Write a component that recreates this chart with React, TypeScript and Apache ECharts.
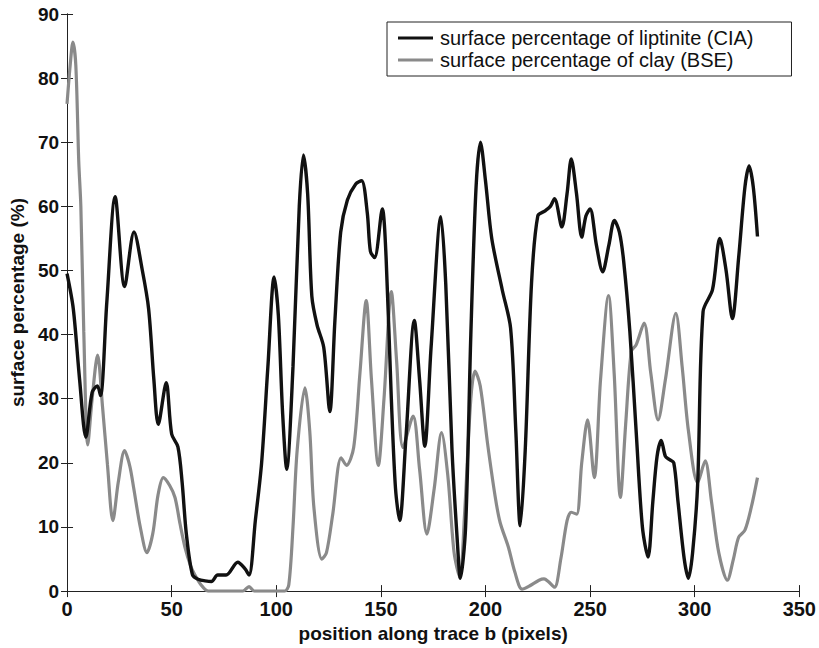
import React, { useEffect, useRef } from "react";
import * as echarts from "echarts";

const xTicks = { min: 0, max: 350, interval: 50 };
const yTicks = { min: 0, max: 90, interval: 10 };

const seriesNames = [
  "surface percentage of liptinite (CIA)",
  "surface percentage of clay (BSE)",
];

const liptiniteX = [
  0, 3, 6, 9, 12, 14.5, 16, 19, 23, 27.5, 32, 36, 39, 41.5, 43.6, 47.4, 50, 53, 55, 57, 60, 63, 66, 69, 72, 76,
  81.6, 85, 87, 90, 93, 96, 99, 101, 103, 105, 108, 111, 113, 115, 117, 119.5, 122.7, 125.6, 128, 130.8, 134,
  138, 140.8, 143.5, 145, 147, 150.7, 152.5, 155, 157, 159, 162, 166, 168.5, 171, 174, 178.7, 181, 184, 186.5,
  188, 190.5, 193, 195.5, 197.6, 200, 203, 208, 212, 214.5, 216.6, 219, 222, 225, 228.5, 231, 233, 236.5, 239,
  241, 243.5, 246, 248, 250, 253, 256, 259, 261.6, 264, 266, 269, 272, 275, 277.7, 280, 282, 284, 286, 288, 290,
  292, 295, 297, 299, 301.4, 304, 308.5, 312, 315, 318, 321, 324, 326, 328, 330,
];
const liptiniteY = [
  49.5, 44, 33, 24, 31, 32, 30.5, 45, 61.5, 47.5, 56, 50, 44, 33, 26, 32.5, 24.5, 22.5, 17, 9, 2.5, 1.8, 1.6, 1.5,
  2.5, 2.5, 4.5, 3.5, 2.5, 11, 20, 35, 49, 43, 28, 19, 35, 60, 68, 62, 46, 41.5, 38, 28, 42, 56, 61, 63.5, 64, 59,
  53, 52, 59.6, 52, 30, 16, 11, 24, 42.2, 33, 22.6, 38, 58.4, 48, 22, 8, 2, 10, 40, 63, 70, 64, 55, 47, 41, 25,
  10.2, 22, 48, 58.5, 59.3, 60, 61.2, 56.8, 62, 67.4, 62, 55.2, 58.5, 59.6, 54, 49.8, 54, 57.8, 56, 51.6, 40.5,
  25, 10, 5.3, 14, 21, 23.5, 21, 20.5, 20, 14, 5, 2, 6, 16.6, 43.6, 47, 55, 50, 42.5, 52, 63, 66.3, 63, 55.3,
];

const clayX = [
  0, 1.5, 2.8, 4.2, 5.6, 6.6, 8, 9.9, 12, 14.6, 17, 19.3, 21.9, 24.5, 27.5, 30, 31.9, 35, 38.2, 41, 43.5, 46, 49,
  51.6, 54, 56.4, 59, 61, 64, 67.4, 75, 84, 87, 89.5, 95, 104, 106, 108, 110, 113.7, 116, 118, 121.8, 124, 127,
  131, 133.6, 137, 140, 143, 145.5, 148.8, 151.5, 155, 157.5, 160.6, 165.4, 168.5, 172, 175.5, 179, 182, 185,
  187.7, 190, 193, 195, 197.5, 201, 204.7, 207, 211, 214, 217.5, 221, 225.6, 228, 230, 233, 236, 239, 241, 243.6,
  246, 248.8, 252, 255, 258.8, 261.5, 264.5, 267, 269.7, 272, 275.8, 279, 282.5, 286, 291, 294, 297, 301.4, 305,
  308, 311.5, 315.6, 318.5, 321, 324, 327, 330,
];
const clayY = [
  76, 82, 85.6, 82, 67, 60, 40.5, 22.8, 30, 36.8, 28.6, 19.8, 11, 17, 21.9, 19.5, 16, 10, 6, 9, 15, 17.7, 16.5,
  14.6, 10.5, 6.8, 4, 2.6, 1, 0, 0, 0, 0.7, 0, 0, 0, 1, 10, 22, 31.7, 25, 13, 5, 6, 12, 20.8, 19.6, 22.4, 34,
  45.3, 33, 19.6, 30, 46.7, 36, 22.4, 27.3, 19, 8.9, 16, 24.7, 18, 6, 2.2, 12, 30, 34.3, 32, 23, 14.6, 10.7, 6.8,
  3, 0.3, 0.8, 1.7, 1.9, 1.5, 0.6, 5, 11, 12.3, 12, 20, 26.7, 17.7, 33, 46.1, 34, 14.6, 26, 37.4, 38.4, 41.8, 34,
  26.7, 33, 43.3, 35, 25, 16.9, 20.3, 14, 6, 1.7, 5, 8.4, 9.5, 13, 17.7,
];

const FONT = '"Liberation Sans", Arial, Helvetica, sans-serif';
const AXIS_COLOR = "#222";

export default function App() {
  const ref = useRef<HTMLDivElement>(null);
  useEffect(() => {
    if (!ref.current) return;
    const chart = echarts.init(ref.current, undefined, { renderer: "svg" });
    const pair = (xs: number[], ys: number[]) => xs.map((x, i) => [x, ys[i]]);
    const axisLine = { show: true, lineStyle: { color: AXIS_COLOR, width: 1 } };
    const tick = { show: true, inside: true, length: 6, lineStyle: { color: AXIS_COLOR } };
    chart.setOption({
      animation: false,
      backgroundColor: "#fff",
      grid: { left: 61, right: 19, top: 14, bottom: 54, containLabel: false },
      legend: {
        left: 387,
        top: 22,
        orient: "vertical",
        backgroundColor: "#fff",
        borderColor: "#222",
        borderWidth: 1,
        borderRadius: 0,
        padding: [6, 38, 6, 11],
        itemGap: 2,
        itemWidth: 35,
        itemHeight: 3,
        icon: "rect",
        textStyle: { fontFamily: FONT, fontSize: 20, color: "#111", lineHeight: 20, padding: [0, 0, 0, 2] },
        data: seriesNames,
      },
      xAxis: [
        {
          type: "value",
          ...xTicks,
          position: "bottom",
          axisLine,
          axisTick: tick,
          splitLine: { show: false },
          axisLabel: { margin: 8, fontFamily: FONT, fontSize: 20, fontWeight: "bold", color: "#111" },
          name: "position along trace b (pixels)",
          nameLocation: "middle",
          nameGap: 29,
          nameTextStyle: { fontFamily: FONT, fontSize: 19, fontWeight: "bold", color: "#111" },
        },
        {
          type: "value",
          ...xTicks,
          position: "top",
          axisLine,
          axisTick: tick,
          splitLine: { show: false },
          axisLabel: { show: false },
        },
      ],
      yAxis: [
        {
          type: "value",
          ...yTicks,
          position: "left",
          axisLine,
          axisTick: tick,
          splitLine: { show: false },
          axisLabel: { margin: 8, fontFamily: FONT, fontSize: 19, fontWeight: "bold", color: "#111" },
          name: "surface percentage (%)",
          nameLocation: "middle",
          nameGap: 31,
          nameTextStyle: { fontFamily: FONT, fontSize: 19, fontWeight: "bold", color: "#111" },
        },
        {
          type: "value",
          ...yTicks,
          position: "right",
          axisLine,
          axisTick: tick,
          splitLine: { show: false },
          axisLabel: { show: false },
        },
      ],
      series: [
        {
          name: seriesNames[0],
          type: "line",
          xAxisIndex: 0,
          yAxisIndex: 0,
          data: pair(liptiniteX, liptiniteY),
          smooth: 0.3,
          showSymbol: false,
          symbol: "none",
          z: 3,
          itemStyle: { color: "#111" },
          lineStyle: { color: "#111", width: 3.4 },
        },
        {
          name: seriesNames[1],
          type: "line",
          xAxisIndex: 0,
          yAxisIndex: 0,
          data: pair(clayX, clayY),
          smooth: 0.3,
          showSymbol: false,
          symbol: "none",
          z: 2,
          itemStyle: { color: "#8a8a8a" },
          lineStyle: { color: "#8a8a8a", width: 3.2 },
        },
      ],
    });
    return () => chart.dispose();
  }, []);
  return <div ref={ref} style={{ width: 819, height: 648, position: "absolute", left: 0, top: 0 }} />;
}
